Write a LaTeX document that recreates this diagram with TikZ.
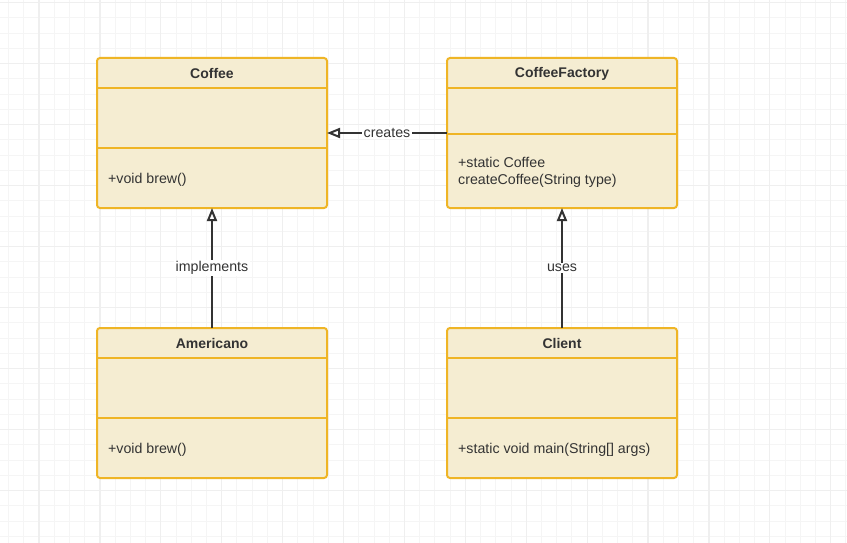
\documentclass[tikz,border=0pt]{standalone}
\usepackage{fontspec}
\setmainfont{Liberation Sans}
\usetikzlibrary{arrows.meta,positioning}
\definecolor{umlfill}{HTML}{F5EDD2}
\definecolor{umlborder}{HTML}{EFB526}
\definecolor{umltext}{HTML}{333333}
\definecolor{minorgrid}{HTML}{F5F5F5}
\definecolor{majorgrid}{HTML}{EFEFEF}

\begin{document}
\begin{tikzpicture}[
  x=1pt, y=-1pt,
  font=\fontsize{14.2}{17}\selectfont,
  classbox/.style={draw=umlborder,fill=umlfill,line width=2pt,rounded corners=3pt,
    minimum width=230pt,minimum height=150pt,inner sep=0pt,outer sep=0pt},
  divider/.style={draw=umlborder,line width=2pt},
  classname/.style={font=\fontsize{14}{15}\selectfont\bfseries,text=umltext},
  member/.style={anchor=west,align=left,text=umltext,inner sep=0pt},
  rel/.style={draw=umltext,line width=2pt,-{Triangle[open,length=13pt,width=10pt]}},
  rellabel/.style={fill=white,text=umltext,inner sep=1.5pt},
  >=Stealth
]
  \useasboundingbox[fill=white] (0,0) rectangle (847,543);

  % Grid
  \foreach \i in {0,...,55} {
    \pgfmathsetmacro{\gx}{8.6+15.225*\i}
    \draw[minorgrid,line width=1pt] (\gx,0) -- (\gx,543);
  }
  \foreach \j in {0,...,35} {
    \pgfmathsetmacro{\gy}{2.7+15.25*\j}
    \draw[minorgrid,line width=1pt] (0,\gy) -- (847,\gy);
  }
  \foreach \i in {0,...,13} {
    \pgfmathsetmacro{\gx}{39.05+60.9*\i}
    \draw[majorgrid,line width=1.2pt] (\gx,0) -- (\gx,543);
  }
  \foreach \j in {0,...,8} {
    \pgfmathsetmacro{\gy}{2.7+61*\j}
    \draw[majorgrid,line width=1.2pt] (0,\gy) -- (847,\gy);
  }

  % Classes
  \node[classbox] (coffee) at (212,133) {};
  \node[classbox,right=120pt of coffee] (factory) {};
  \node[classbox,below=120pt of coffee] (americano) {};
  \node[classbox,below=120pt of factory] (client) {};

  % Compartments
  \foreach \c/\a/\b in {coffee/30/90,factory/30/76,americano/30/90,client/30/90} {
    \draw[divider] ([yshift=-\a pt]\c.north west) -- ([yshift=-\a pt]\c.north east);
    \draw[divider] ([yshift=-\b pt]\c.north west) -- ([yshift=-\b pt]\c.north east);
  }

  % Names
  \node[classname] (coffeename) at ([yshift=-15.5pt]coffee.north) {Coffee};
  \node[classname] (factoryname) at ([yshift=-15.5pt]factory.north) {CoffeeFactory};
  \node[classname] (americanoname) at ([yshift=-15.5pt]americano.north) {Americano};
  \node[classname] (clientname) at ([yshift=-15.5pt]client.north) {Client};

  % Operations
  \node[member] (coffeeop) at ([xshift=11pt,yshift=-122pt]coffee.north west) {+void brew()};
  \node[member] (factoryop) at ([xshift=11pt,yshift=-114.5pt]factory.north west)
    {+static Coffee\\createCoffee(String type)};
  \node[member] (americanoop) at ([xshift=11pt,yshift=-122pt]americano.north west) {+void brew()};
  \node[member] (clientop) at ([xshift=11pt,yshift=-122pt]client.north west)
    {+static void main(String[] args)};

  % Relations
  \draw[rel] (factory.west) -- node[rellabel] {creates} (coffee.east);
  \draw[rel] (americano.north) -- node[rellabel] {implements} (coffee.south);
  \draw[rel] (client.north) -- node[rellabel] {uses} (factory.south);
\end{tikzpicture}
\end{document}
